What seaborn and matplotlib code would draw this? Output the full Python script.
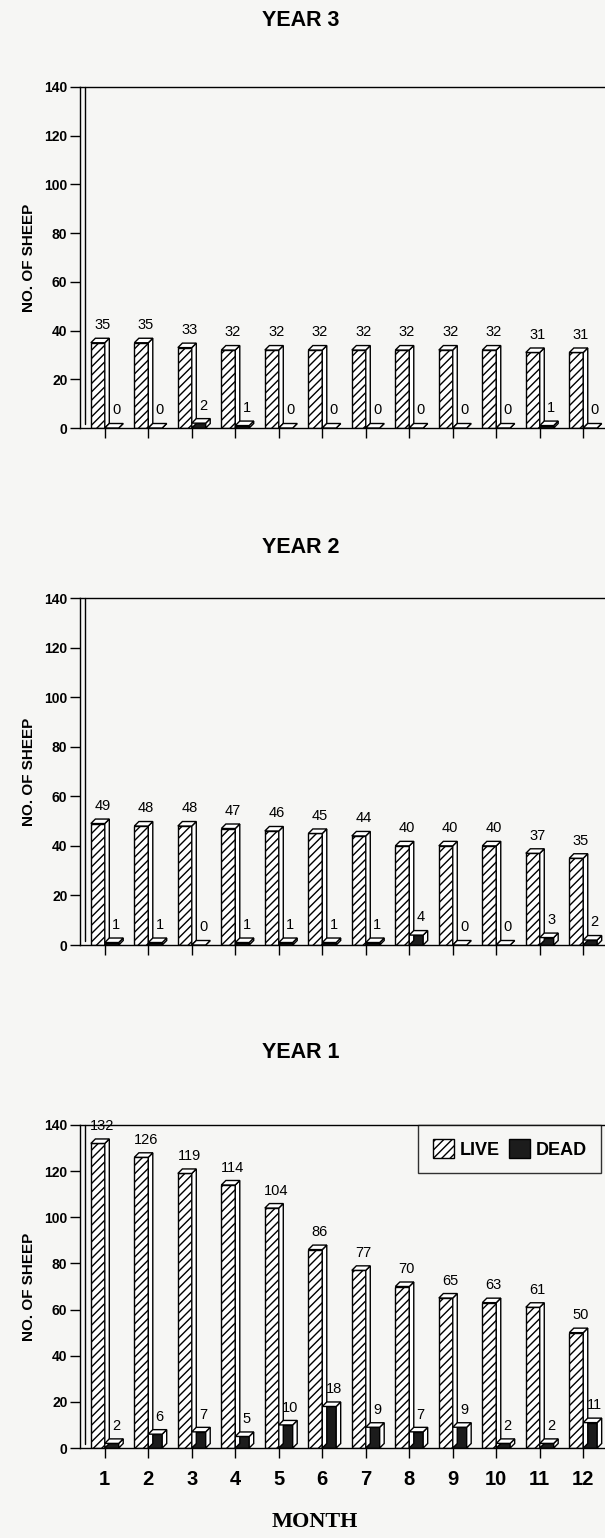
import pandas as pd
import matplotlib.pyplot as plt
import seaborn as sns
from matplotlib.patches import Polygon, Patch

# === DATA ===
months = list(range(1, 13))
month_labels = [str(m) for m in months]

year3_live = [35, 35, 33, 32, 32, 32, 32, 32, 32, 32, 31, 31]
year3_dead = [0, 0, 2, 1, 0, 0, 0, 0, 0, 0, 1, 0]

year2_live = [49, 48, 48, 47, 46, 45, 44, 40, 40, 40, 37, 35]
year2_dead = [1, 1, 0, 1, 1, 1, 1, 4, 0, 0, 3, 2]

year1_live = [132, 126, 119, 114, 104, 86, 77, 70, 65, 63, 61, 50]
year1_dead = [2, 6, 7, 5, 10, 18, 9, 7, 9, 2, 2, 11]

y_ticks = [0, 20, 40, 60, 80, 100, 120, 140]

panels = [
    ("YEAR 3", year3_live, year3_dead),
    ("YEAR 2", year2_live, year2_dead),
    ("YEAR 1", year1_live, year1_dead),
]

# === STYLE ===
sns.set_style("white")
plt.rcParams['font.family'] = ['Liberation Sans', 'DejaVu Sans']
plt.rcParams['hatch.linewidth'] = 1.0
for k in ['text.color', 'axes.labelcolor', 'xtick.color', 'ytick.color']:
    plt.rcParams[k] = 'black'
paper = '#f6f6f4'

fig = plt.figure(figsize=(6.05, 15.38), dpi=100, facecolor=paper)

# axes boxes in figure pixels: (top, bottom)
boxes = [(87, 428), (598, 945), (1125, 1448)]
title_y = [20, 548, 1053]
H = 1538.0
left_px = 80

for (title, live, dead), (top, bot), ty in zip(panels, boxes, title_y):
    ax = fig.add_axes([left_px / 605, 1 - bot / H, 1 - left_px / 605, (bot - top) / H])
    ax.set_facecolor(paper)

    df = pd.DataFrame({
        'month': month_labels * 2,
        'count': live + dead,
        'status': ['LIVE'] * 12 + ['DEAD'] * 12,
    })
    sns.barplot(data=df, x='month', y='count', hue='status',
                palette={'LIVE': 'white', 'DEAD': '#1c1c1c'},
                width=0.64, edgecolor='black', linewidth=1.0,
                ax=ax, legend=False, saturation=1)

    ax.set_xlim(-0.57, 11.5)
    ax.set_ylim(0, 140)

    # 3D depth offsets in data units
    px_x = (605 - left_px) / 12.07
    px_y = (bot - top) / 140.0
    dx = 4.5 / px_x
    dy = 4.5 / px_y

    for ci, cont in enumerate(ax.containers):
        vals = live if ci == 0 else dead
        for bar, v in zip(cont, vals):
            x = bar.get_x()
            w = bar.get_width()
            h = bar.get_height()
            if ci == 0:
                bar.set_hatch('////')
            top_face = Polygon([(x, h), (x + dx, h + dy), (x + w + dx, h + dy), (x + w, h)],
                               closed=True, facecolor='white', edgecolor='black', lw=1.0, zorder=3)
            side_face = Polygon([(x + w, 0), (x + w + dx, dy), (x + w + dx, h + dy), (x + w, h)],
                                closed=True, facecolor='white', edgecolor='black', lw=1.0, zorder=3)
            ax.add_patch(side_face)
            ax.add_patch(top_face)
            ax.text(x + w / 2 + dx, h + dy + 2.5, str(v), ha='center', va='bottom',
                    fontsize=10.5, color='black', zorder=4)

    # back wall line next to the left spine
    ax.plot([-0.57 + dx, -0.57 + dx], [dy, 140], color='black', lw=1.0, clip_on=False)

    ax.set_yticks(y_ticks)
    ax.set_yticklabels([str(t) for t in y_ticks], fontsize=10, fontweight='bold')
    ax.tick_params(axis='y', direction='out', length=7, width=1, left=True, pad=2)
    ax.tick_params(axis='x', direction='out', length=7, width=1, bottom=True)
    for s in ['left', 'bottom', 'top']:
        ax.spines[s].set_color('black')
        ax.spines[s].set_linewidth(1.0)
    ax.spines['right'].set_visible(False)

    ax.set_ylabel('NO. OF SHEEP', fontsize=11, fontweight='bold', labelpad=6)
    ax.set_xlabel('')
    if title == "YEAR 1":
        ax.set_xticklabels(month_labels, fontsize=14.5, fontweight='bold')
        ax.tick_params(axis='x', pad=9)
        handles = [Patch(facecolor='white', edgecolor='black', hatch='////'),
                   Patch(facecolor='#1c1c1c', edgecolor='black')]
        leg = ax.legend(handles, ['LIVE', 'DEAD'], ncol=2, loc='upper left',
                        bbox_to_anchor=(0.644, 1.0), frameon=True, fancybox=False,
                        borderaxespad=0, handlelength=1.2, handleheight=1.2,
                        columnspacing=0.5, handletextpad=0.3, borderpad=0.8,
                        prop={'weight': 'bold', 'size': 13})
        leg.get_frame().set_edgecolor('black')
        leg.get_frame().set_linewidth(1.0)
        leg.get_frame().set_facecolor(paper)
    else:
        ax.set_xticklabels([])

    fig.text(0.497, 1 - ty / H, title, ha='center', va='center',
             fontsize=15.5, fontweight='bold')

fig.text(0.52, 1 - 1522 / H, 'MONTH', ha='center', va='center', fontsize=16,
         fontweight='bold', family=['Liberation Serif', 'DejaVu Serif'])

plt.savefig('out.png', dpi=100, facecolor=paper)
